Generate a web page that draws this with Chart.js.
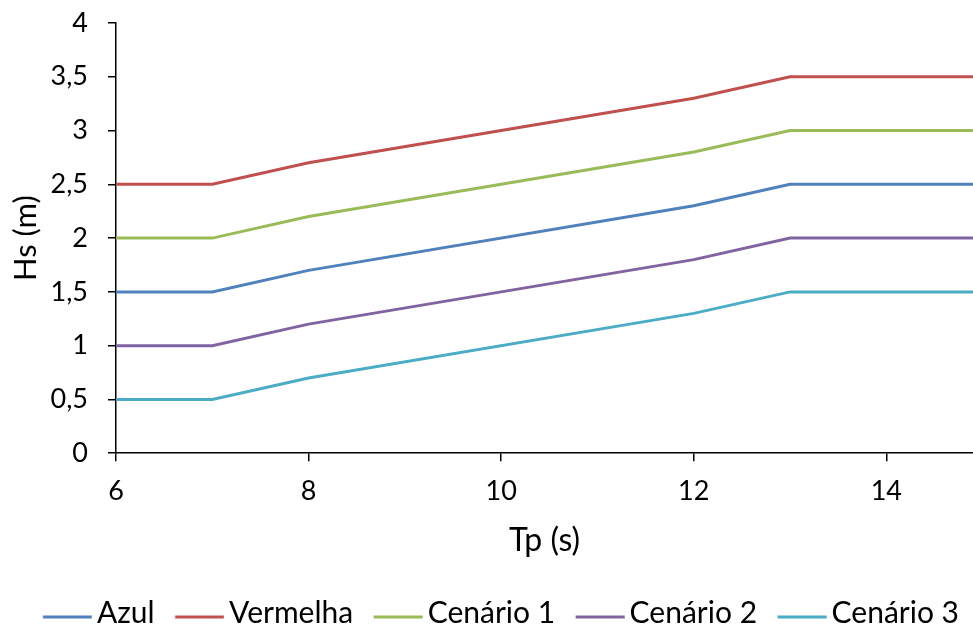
<!DOCTYPE html>
<html>
<head>
<meta charset="utf-8">
<script src="https://cdn.jsdelivr.net/npm/chart.js@4/dist/chart.umd.min.js"></script>
<style>
  html, body { margin: 0; padding: 0; background: #ffffff; overflow: hidden; }
  #wrap { width: 973px; height: 638px; position: relative; }
</style>
</head>
<body>
<div id="wrap"><canvas id="chart"></canvas></div>
<script>
// Wave period (s) break points
const tp = [6, 7, 8, 12, 13, 15];

// Significant wave height (m) for each scenario
const azul      = [1.5, 1.5, 1.7, 2.3, 2.5, 2.5];
const vermelha  = [2.5, 2.5, 2.7, 3.3, 3.5, 3.5];
const cenario1  = [2.0, 2.0, 2.2, 2.8, 3.0, 3.0];
const cenario2  = [1.0, 1.0, 1.2, 1.8, 2.0, 2.0];
const cenario3  = [0.5, 0.5, 0.7, 1.3, 1.5, 1.5];

const seriesNames = ['Azul', 'Vermelha', 'Cenário 1', 'Cenário 2', 'Cenário 3'];
const seriesValues = [azul, vermelha, cenario1, cenario2, cenario3];
const seriesColors = ['#4F81BD', '#C0504D', '#9BBB59', '#8064A2', '#4BACC6'];

const yTickLabels = ['0', '0,5', '1', '1,5', '2', '2,5', '3', '3,5', '4'];
const xTickLabels = ['6', '8', '10', '12', '14'];

const FONT = 'Lato, "Noto Sans", sans-serif';

// Short coloured stroke used as the legend marker; it sits close to its label,
// slightly below the text's middle
function legendStroke(color) {
  const c = document.createElement('canvas');
  c.width = 66;
  c.height = 14;
  const g = c.getContext('2d');
  g.strokeStyle = color;
  g.lineWidth = 3;
  g.beginPath();
  g.moveTo(16.75, 11);
  g.lineTo(65.75, 11);
  g.stroke();
  return c;
}

const datasets = seriesNames.map((name, i) => ({
  label: name,
  data: tp.map((x, j) => ({ x: x, y: seriesValues[i][j] })),
  borderColor: seriesColors[i],
  backgroundColor: seriesColors[i],
  borderWidth: 3,
  pointRadius: 0,
  pointHoverRadius: 0,
  pointStyle: legendStroke(seriesColors[i]),
  tension: 0,
  fill: false
}));

new Chart(document.getElementById('chart'), {
  type: 'line',
  data: { datasets },
  options: {
    responsive: true,
    maintainAspectRatio: false,
    animation: false,
    layout: { padding: { left: 5, right: 0, top: 0, bottom: 0 } },
    plugins: {
      tooltip: { enabled: false },
      legend: {
        position: 'bottom',
        align: 'end',
        labels: {
          usePointStyle: true,
          pointStyleWidth: 45.5,
          padding: 14,
          color: '#000000',
          font: { family: FONT, size: 30 }
        }
      }
    },
    scales: {
      x: {
        type: 'linear',
        min: 6,
        max: 14.9,
        border: { display: true, color: '#000000', width: 1.5 },
        grid: { display: true, drawOnChartArea: false, drawTicks: true, tickLength: 8, color: '#000000', lineWidth: 1.5 },
        ticks: {
          stepSize: 2,
          includeBounds: false,
          padding: 14,
          color: '#000000',
          font: { family: FONT, size: 27 },
          maxRotation: 0,
          callback: (v) => {
            const i = xTickLabels.indexOf(String(v));
            return i >= 0 ? xTickLabels[i] : '';
          }
        },
        title: {
          display: true,
          text: 'Tp (s)',
          color: '#000000',
          font: { family: FONT, size: 32 },
          padding: { top: 0, bottom: 24 }
        }
      },
      y: {
        min: 0,
        max: 4,
        afterFit: (scale) => { scale.paddingTop = 23; scale.width = 111; },
        border: { display: true, color: '#000000', width: 1.5 },
        grid: { display: true, drawOnChartArea: false, drawTicks: true, tickLength: 8, color: '#000000', lineWidth: 1.5 },
        ticks: {
          stepSize: 0.5,
          padding: 20,
          color: '#000000',
          font: { family: FONT, size: 27 },
          callback: (v) => yTickLabels[Math.round(v * 2)]
        },
        title: {
          display: true,
          text: 'Hs (m)',
          color: '#000000',
          font: { family: FONT, size: 31 },
          padding: { top: 2, bottom: 0 }
        }
      }
    }
  }
});
</script>
</body>
</html>
